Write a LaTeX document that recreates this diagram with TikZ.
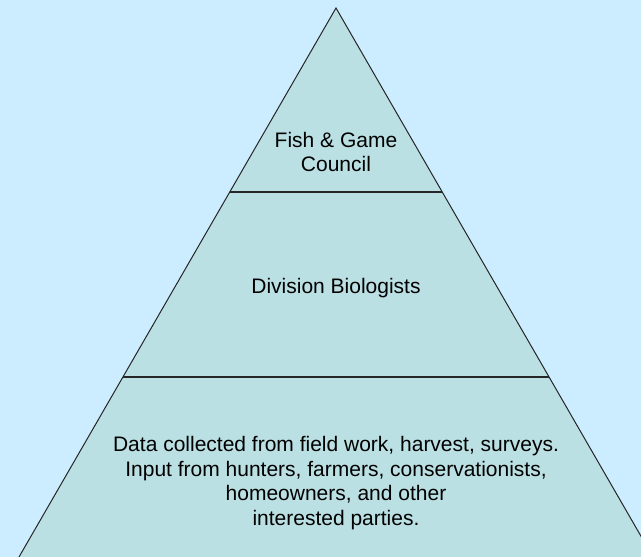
\documentclass[tikz,border=0pt]{standalone}
\usepackage{fontspec}
\setmainfont{Liberation Sans}
\usepackage{xcolor}
\usepackage{tikz}
\usetikzlibrary{calc}
\definecolor{skyback}{HTML}{CCECFF}
\definecolor{layerfill}{HTML}{BBE0E3}
\tikzstyle{pyramidline} = [draw=black!85, line width=1pt]
\tikzstyle{layerline} = [draw=black!85, line width=1.5pt]
\tikzstyle{layertext} = [align=center, inner sep=0pt,
font=\fontsize{21}{24.5}\selectfont]

\begin{document}
\begin{tikzpicture}[x=1pt, y=-1pt]
        \useasboundingbox (0,0) rectangle (641,557);
        \fill[skyback] (0,0) rectangle (641,557);
        \coordinate (apex) at (336,8);
        \coordinate (baseL) at (19,557);
        \coordinate (baseR) at (653,557);
        % pyramid runs past the bottom edge
        \begin{scope}
            \clip (0,0) rectangle (641,557);
            \filldraw[pyramidline, fill=layerfill] (apex) -- ($(apex)!1.1!(baseL)$)
                -- ($(apex)!1.1!(baseR)$) -- cycle;
        \end{scope}
        \draw[layerline] ($(apex)!0.3352!(baseL)$) coordinate (topL)
            -- ($(apex)!0.3352!(baseR)$) coordinate (topR);
        \draw[layerline] ($(apex)!0.6721!(baseL)$) coordinate (midL)
            -- ($(apex)!0.6721!(baseR)$) coordinate (midR);
        \node[layertext] (council) at (336,152) {Fish \& Game\\Council};
        \node[layertext] (biologists) at (336,287.6) {Division Biologists};
        \node[layertext] (fieldwork) at (336,483) {Data collected from field work, harvest, surveys.\\
            Input from hunters, farmers, conservationists,\\
            homeowners, and other\\
            interested parties.};
    \end{tikzpicture}
\end{document}
